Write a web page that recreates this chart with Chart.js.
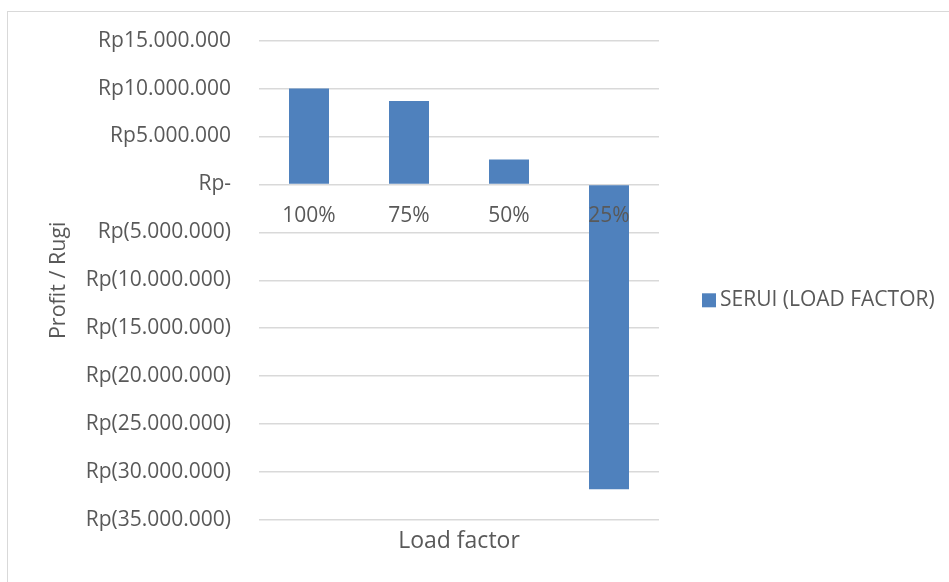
<!DOCTYPE html>
<html>
<head>
<meta charset="utf-8">
<title>Profit / Rugi - Load factor</title>
<script src="https://cdn.jsdelivr.net/npm/chart.js@4/dist/chart.umd.min.js"></script>
<style>
  html, body { margin: 0; padding: 0; background: #ffffff; overflow: hidden; }
  #wrap { position: relative; width: 949px; height: 582px; }
  #frame {
    position: absolute; left: 7px; top: 11px; width: 1000px; height: 700px;
    border: 1px solid #d9d9d9; box-sizing: border-box; pointer-events: none;
  }
  canvas { position: absolute; left: 0; top: 0; }
</style>
</head>
<body>
<div id="wrap">
  <div id="frame"></div>
  <canvas id="chart" width="949" height="582"></canvas>
</div>
<script>
// Load factor categories and the resulting profit / loss (Rupiah)
const categories = ['100%', '75%', '50%', '25%'];
const seriesName = 'SERUI (LOAD FACTOR)';
const profitValues = [10000000, 8700000, 2600000, -31800000];

// Value axis range
const axisMin = -35000000;
const axisMax = 15000000;
const axisStep = 5000000;

const textColor = '#595959';
const gridColor = '#d9d9d9';
const barColor = '#4f81bd';
const fontFamily = "'Open Sans', 'Noto Sans', sans-serif";

function formatRupiah(v) {
  if (v === 0) return 'Rp-';
  const s = Math.abs(v).toString().replace(/\B(?=(\d{3})+(?!\d))/g, '.');
  return v < 0 ? 'Rp(' + s + ')' : 'Rp' + s;
}

// Series key drawn in the free space to the right of the plot
const sideLegend = {
  id: 'sideLegend',
  afterDraw(chart) {
    const { ctx, chartArea } = chart;
    const ds = chart.data.datasets[0];
    const box = 14;
    const x = chartArea.right + 43;
    const cy = (chartArea.top + chartArea.bottom) / 2 + 20;
    ctx.save();
    ctx.fillStyle = ds.backgroundColor;
    ctx.fillRect(x, cy - box / 2, box, box);
    ctx.fillStyle = textColor;
    ctx.font = '21px ' + fontFamily;
    ctx.textBaseline = 'middle';
    ctx.textAlign = 'left';
    ctx.fillText(ds.label, x + box + 4, cy);
    ctx.restore();
  }
};

new Chart(document.getElementById('chart'), {
  type: 'bar',
  data: {
    labels: categories,
    datasets: [{
      label: seriesName,
      data: profitValues,
      backgroundColor: barColor,
      borderWidth: 0,
      barPercentage: 0.4,
      categoryPercentage: 1.0
    }]
  },
  plugins: [sideLegend],
  options: {
    responsive: false,
    animation: false,
    layout: { padding: { left: 38, top: 40, right: 290, bottom: 0 } },
    plugins: {
      tooltip: { enabled: false },
      legend: { display: false }
    },
    scales: {
      x: {
        type: 'category',
        position: { y: 0 },
        offset: true,
        grid: { display: false, drawTicks: false },
        border: { display: false },
        ticks: { z: 1, color: textColor, padding: 19, font: { family: fontFamily, size: 21 }, maxRotation: 0 }
      },
      x2: {
        type: 'category',
        position: 'bottom',
        labels: categories,
        grid: { display: false, drawTicks: false },
        border: { display: false },
        ticks: { display: false },
        title: {
          display: true,
          text: 'Load factor',
          color: textColor,
          font: { family: fontFamily, size: 23 },
          padding: { top: 0, bottom: 27 }
        },
        afterFit: (scale) => { scale.height = 62; }
      },
      y: {
        min: axisMin,
        max: axisMax,
        grid: { color: gridColor, lineWidth: 1.5, drawTicks: false },
        border: { display: false },
        ticks: {
          stepSize: axisStep,
          color: textColor,
          padding: 28,
          font: { family: fontFamily, size: 21 },
          callback: (v) => formatRupiah(v)
        },
        title: {
          display: true,
          text: 'Profit / Rugi',
          color: textColor,
          font: { family: fontFamily, size: 21.5 },
          padding: { top: 8, bottom: 14 }
        },
        afterFit: (scale) => { scale.width = 221; }
      }
    }
  }
});
</script>
</body>
</html>
